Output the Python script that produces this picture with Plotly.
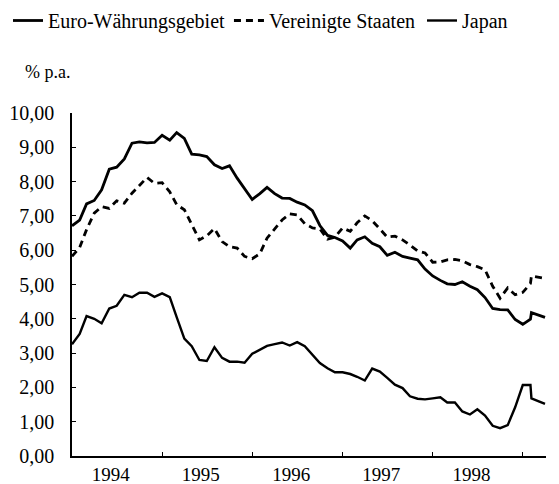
import pandas as pd
import plotly.graph_objects as go

# Monthly observations Jan 1994 - Feb 1999, plus two tail observations in 1999
month_dates = pd.date_range("1994-01-01", "1999-02-01", freq="MS")
tail_dates = pd.to_datetime(["1999-02-05", "1999-04-01"])
dates = list(month_dates) + list(tail_dates)

euro = [6.71, 6.88, 7.35, 7.45, 7.76, 8.36, 8.42, 8.66, 9.12, 9.16, 9.13, 9.14,
        9.35, 9.21, 9.43, 9.26, 8.80, 8.78, 8.73, 8.49, 8.38, 8.46, 8.10, 7.78,
        7.48, 7.65, 7.83, 7.65, 7.52, 7.51, 7.40, 7.32, 7.15, 6.72, 6.43, 6.37,
        6.27, 6.06, 6.30, 6.39, 6.20, 6.10, 5.85, 5.94, 5.82, 5.77, 5.72, 5.45,
        5.25, 5.12, 5.02, 5.00, 5.08, 4.95, 4.85, 4.62, 4.30, 4.27, 4.26, 3.98,
        3.84, 3.99, 4.18, 4.04]

usa = [5.82, 6.08, 6.60, 7.08, 7.27, 7.22, 7.44, 7.37, 7.66, 7.90, 8.12, 7.95,
       7.97, 7.70, 7.33, 7.18, 6.75, 6.30, 6.42, 6.63, 6.25, 6.10, 6.06, 5.82,
       5.75, 5.90, 6.35, 6.63, 6.88, 7.06, 7.03, 6.77, 6.65, 6.62, 6.32, 6.38,
       6.65, 6.55, 6.80, 7.00, 6.86, 6.62, 6.38, 6.41, 6.30, 6.15, 5.98, 5.92,
       5.65, 5.66, 5.72, 5.73, 5.69, 5.58, 5.52, 5.43, 4.95, 4.60, 4.90, 4.70,
       4.77, 5.03, 5.25, 5.18]

japan = [3.26, 3.56, 4.08, 4.00, 3.87, 4.30, 4.38, 4.70, 4.63, 4.76, 4.76, 4.64,
         4.74, 4.63, 4.05, 3.42, 3.20, 2.80, 2.77, 3.17, 2.86, 2.75, 2.75, 2.72,
         2.98, 3.09, 3.21, 3.26, 3.31, 3.22, 3.32, 3.20, 2.95, 2.71, 2.56, 2.44,
         2.44, 2.39, 2.31, 2.20, 2.55, 2.46, 2.28, 2.08, 1.98, 1.74, 1.67, 1.65,
         1.68, 1.71, 1.56, 1.56, 1.30, 1.21, 1.36, 1.18, 0.88, 0.81, 0.90, 1.42,
         2.07, 2.07, 1.68, 1.52]

series_names = ["Euro-Währungsgebiet", "Vereinigte Staaten", "Japan"]
year_ticks = ["1994-01-01", "1995-01-01", "1996-01-01", "1997-01-01", "1998-01-01", "1999-01-01"]
year_label_pos = ["1994-06-07", "1995-06-07", "1996-06-07", "1997-06-07", "1998-06-07"]
year_labels = ["1994", "1995", "1996", "1997", "1998"]
y_ticks = [0, 1, 2, 3, 4, 5, 6, 7, 8, 9, 10]
x_range = ["1994-01-01", "1999-04-05"]

FONT = "Liberation Serif"

fig = go.Figure()
fig.add_trace(go.Scatter(x=dates, y=euro, name=series_names[0], mode="lines",
                         legend="legend",
                         line=dict(color="black", width=2.8)))
fig.add_trace(go.Scatter(x=dates, y=usa, name=series_names[1], mode="lines",
                         legend="legend2",
                         line=dict(color="black", width=2.8, dash="7px,5px")))
fig.add_trace(go.Scatter(x=dates, y=japan, name=series_names[2], mode="lines",
                         legend="legend3",
                         line=dict(color="black", width=2.4)))
# invisible trace on the label axis
fig.add_trace(go.Scatter(x=[x_range[0]], y=[None], xaxis="x2", showlegend=False,
                         hoverinfo="skip"))

legend_style = dict(orientation="h", xref="container", yref="paper",
                    y=(448 + 7) / 343, xanchor="left", yanchor="top",
                    font=dict(family=FONT, size=20), bgcolor="rgba(0,0,0,0)",
                    itemwidth=30)

fig.update_layout(
    width=551, height=476,
    margin=dict(l=64, r=13, t=105, b=28, autoexpand=False),
    paper_bgcolor="white", plot_bgcolor="white",
    separators=",.",
    font=dict(family=FONT, size=20, color="black"),
    showlegend=True,
    legend=dict(legend_style, x=0.0),
    legend2=dict(legend_style, x=0.401),
    legend3=dict(legend_style, x=0.7514),
    xaxis=dict(type="date", range=x_range, tickvals=year_ticks, showticklabels=False,
               ticks="inside", ticklen=4, tickcolor="black", showline=True,
               linecolor="black", linewidth=1.5, showgrid=False, zeroline=False,
               automargin=False),
    xaxis2=dict(type="date", range=x_range, overlaying="x", side="bottom",
                tickvals=year_label_pos, ticktext=year_labels, ticks="",
                showline=False, showgrid=False, zeroline=False, automargin=False,
                tickfont=dict(family=FONT, size=19), ticklabelstandoff=5),
    yaxis=dict(range=[0, 10], tickvals=y_ticks, tickformat=".2f", ticks="inside",
               ticklen=4, tickcolor="black", showline=True, linecolor="black",
               linewidth=1.5, showgrid=False, zeroline=False, automargin=False,
               tickfont=dict(family=FONT, size=20), ticklabelstandoff=12),
    annotations=[dict(text="% p.a.", xref="paper", yref="paper",
                      x=(15 - 64) / 474, y=(448 - 64) / 343,
                      xanchor="left", yanchor="middle",
                      showarrow=False, font=dict(family=FONT, size=18))],
)

fig.write_html("out.html")
